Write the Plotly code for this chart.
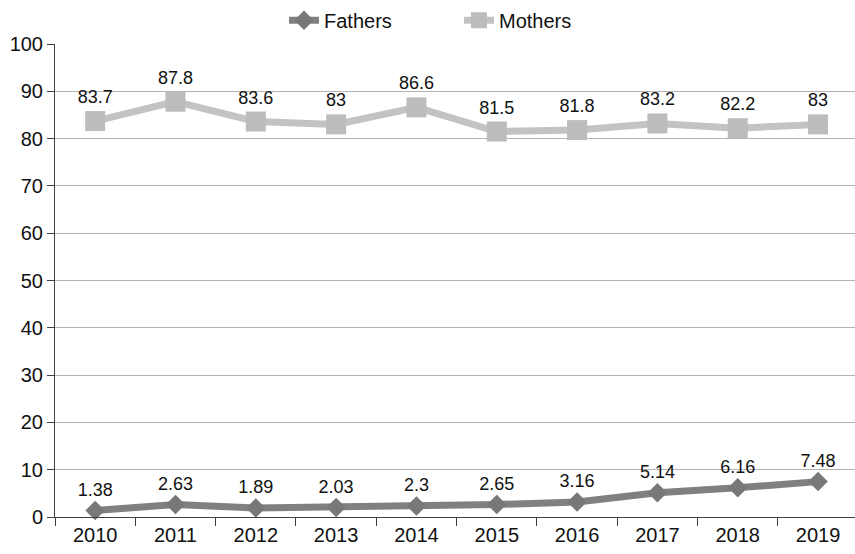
import plotly.graph_objects as go

years = ["2010", "2011", "2012", "2013", "2014", "2015", "2016", "2017", "2018", "2019"]
fathers = [1.38, 2.63, 1.89, 2.03, 2.3, 2.65, 3.16, 5.14, 6.16, 7.48]
mothers = [83.7, 87.8, 83.6, 83, 86.6, 81.5, 81.8, 83.2, 82.2, 83]
y_ticks = [0, 10, 20, 30, 40, 50, 60, 70, 80, 90, 100]

font_family = "Liberation Sans, Arial, sans-serif"

fig = go.Figure()
fig.add_trace(go.Scatter(
    x=years, y=fathers, name="Fathers", mode="lines+markers+text",
    line=dict(color="#808082", width=7),
    marker=dict(symbol="diamond", size=15, color="#78787a"),
    text=[str(v) for v in fathers], textposition="top center",
    textfont=dict(size=18, color="#111111", family=font_family),
    cliponaxis=False,
))
fig.add_trace(go.Scatter(
    x=years, y=mothers, name="Mothers", mode="lines+markers+text",
    line=dict(color="#c3c3c5", width=7),
    marker=dict(symbol="square", size=20, color="#bcbcbe"),
    text=[str(v) for v in mothers], textposition="top center",
    textfont=dict(size=18, color="#111111", family=font_family),
    cliponaxis=False,
))

fig.update_layout(
    width=855, height=554,
    margin=dict(l=55, r=0, t=44, b=37),
    paper_bgcolor="white", plot_bgcolor="white",
    font=dict(family=font_family, size=20, color="#111111"),
    showlegend=True,
    legend=dict(orientation="h", x=0.505, xanchor="center",
                y=1.05, yanchor="middle", entrywidth=130,
                font=dict(size=20)),
    xaxis=dict(
        type="category", range=[-0.5, 9.46],
        showline=True, linecolor="#404040", linewidth=1,
        ticks="outside", ticklen=8, tickcolor="#404040",
        tickson="boundaries", showgrid=False,
        tickfont=dict(size=20),
    ),
    yaxis=dict(
        range=[0, 100], tickvals=y_ticks,
        showline=True, linecolor="#404040", linewidth=1,
        ticks="outside", ticklen=7, tickcolor="#404040",
        showgrid=True, gridcolor="#b4b4b4", gridwidth=1,
        zeroline=False, tickfont=dict(size=20),
    ),
)

fig.write_html("out.html")
